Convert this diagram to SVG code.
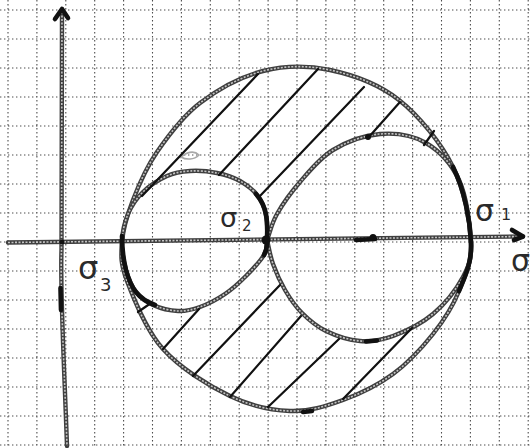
<svg xmlns="http://www.w3.org/2000/svg" width="532" height="448" viewBox="0 0 532 448">
<style>
.grid{fill:none;stroke:#4d4d4d;stroke-width:1.1;stroke-dasharray:1.4 2.6}
.pen{fill:none;stroke:#3f3f3f;stroke-width:4.4;stroke-linecap:round;stroke-linejoin:round}
.pen-in{fill:none;stroke:#c4c4c4;stroke-width:1.6;stroke-dasharray:2 1.5}
.ink{fill:none;stroke:#111;stroke-width:2.2;stroke-linecap:round}
.bold{fill:none;stroke:#111;stroke-width:4.6;stroke-linecap:round;stroke-linejoin:round}
.blob{fill:#111}
.faint{fill:none;stroke:#a8a8a8;stroke-width:1.6}
.lbl{font-family:"DejaVu Sans",sans-serif;fill:#2a2a2a}
</style>
<defs>
<path id="outer" d="M122,242 C123,228.5 127.2,215 133,200 C138.8,185 145.8,168.2 157,152 C168.2,135.8 182.3,116.5 200,103 C217.7,89.5 241.3,76.5 263,71 C284.7,65.5 307.3,65.2 330,70 C352.7,74.8 378.5,83.8 399,100 C419.5,116.2 441.2,143.3 453,167 C464.8,190.7 470,221.3 471,242 C472,262.7 465.2,275.7 459,291 C452.8,306.3 444,320.2 433,334 C422,347.8 408,363 393,374 C378,385 360.2,393.8 343,400 C325.8,406.2 308.8,411.7 290,411 C271.2,410.3 251.2,406.3 230,396 C208.8,385.7 180.2,368.2 163,349 C145.8,329.8 133.8,298.8 127,281 C120.2,263.2 121,255.5 122,242 Z"/>
<path id="small" d="M122,242 C122.3,232.7 124.5,222.3 128,214 C131.5,205.7 136.5,198.3 143,192 C149.5,185.7 159.2,179.5 167,176 C174.8,172.5 181.7,171.5 190,171 C198.3,170.5 208.7,171.3 217,173 C225.3,174.7 233.2,177.2 240,181 C246.8,184.8 253.7,190.3 258,196 C262.3,201.7 264.5,207.7 266,215 C267.5,222.3 267.3,233.3 267,240 C266.7,246.7 267.5,249 264,255 C260.5,261 252.5,269.5 246,276 C239.5,282.5 232.7,288.8 225,294 C217.3,299.2 207.8,304.2 200,307 C192.2,309.8 185.8,311.3 178,311 C170.2,310.7 160,308.2 153,305 C146,301.8 140.5,297.8 136,292 C131.5,286.2 128.3,278.3 126,270 C123.7,261.7 121.7,251.3 122,242 Z"/>
<path id="right" d="M267,240 C270.3,231.3 271.5,223.7 277,214 C282.5,204.3 290.7,192.7 300,182 C309.3,171.3 319.7,158 333,150 C346.3,142 364.5,135.2 380,134 C395.5,132.8 412.8,135.3 426,143 C439.2,150.7 451.3,163.5 459,180 C466.7,196.5 470.3,225.8 471,242 C471.7,258.2 469.5,265 463,277 C456.5,289 444.7,304.2 433,314 C421.3,323.8 405.2,331.5 393,336 C380.8,340.5 371.2,341.8 360,341 C348.8,340.2 335.7,335.7 326,331 C316.3,326.3 308.8,319.8 302,313 C295.2,306.2 289.8,298.2 285,290 C280.2,281.8 276,272.3 273,264 C270,255.7 269,248 267,240"/>
<path id="xaxis" d="M8,242.5 L523,236.5"/>
<path id="yaxis" d="M62,12 L61.5,250 C60,290 64,360 67,446"/>
</defs>
<rect width="532" height="448" fill="#fff"/>
<path class="grid" d="M8,0V448M36.9,0V448M65.8,0V448M94.7,0V448M123.6,0V448M152.5,0V448M181.4,0V448M210.3,0V448M239.2,0V448M268.1,0V448M297,0V448M325.9,0V448M354.8,0V448M383.7,0V448M412.6,0V448M441.5,0V448M470.4,0V448M499.3,0V448M528.2,0V448M0,10H532M0,39H532M0,68H532M0,97H532M0,126H532M0,155H532M0,184H532M0,213H532M0,242H532M0,271H532M0,300H532M0,329H532M0,358H532M0,387H532M0,416H532M0,445H532"/>
<g id="axes">
<use href="#xaxis" class="pen"/><use href="#xaxis" class="pen-in"/>
<use href="#yaxis" class="pen"/><use href="#yaxis" class="pen-in"/>
<path class="bold" d="M512,230 L523,236.5 L514,240"/>
<path class="bold" d="M55,19 L62,9 L68,18"/>
<path class="bold" d="M60.5,288 L61,310"/>
<circle class="blob" cx="62" cy="242" r="2.5"/>
</g>
<g id="curves">
<use href="#outer" class="pen"/><use href="#outer" class="pen-in"/>
<use href="#small" class="pen"/><use href="#small" class="pen-in"/>
<use href="#right" class="pen"/><use href="#right" class="pen-in"/>
<path class="bold" d="M256,194 C262,201 265,208 266,215 C267.5,222 267.3,233 267,240 C266.7,247 267.5,249 264,255"/>
<path class="bold" d="M122,236 C122,250 124,262 126,270 C128.3,278.3 131.5,286.2 136,292 C140.5,297.8 146,301.8 155,305"/>
<path class="bold" d="M453,167 C464.8,190.7 470,221.3 471,242 C472,262.7 465.2,275.7 459,291"/>
<path class="bold" d="M356,240 L375,239"/>
<circle class="blob" cx="373" cy="237.5" r="3.5"/>
<circle class="blob" cx="266" cy="240" r="4.5"/>
<circle class="blob" cx="368" cy="137" r="3"/>
<path class="bold" d="M366,341.5 L377,340.5"/>
<path class="bold" d="M303,412 L312,411"/>
<path class="faint" d="M180,158 C186,152 194,150 199,155 C194,160 186,160 181,157"/>
</g>
<g id="hatching">
<path class="ink" d="M142,196 L258,74 M219,175 L318,69 M259,197 L364,87 M368,138 L400,102 M424,145 L434,131"/>
<path class="ink" d="M138,312 L151,303 M163,349 L199,309 M193,376 L280,285 M230,397 L301,316 M268,407 L339,339 M343,399 L412,328"/>
</g>
<g id="labels">
<text class="lbl" x="475" y="221" font-size="30">σ</text>
<text class="lbl" x="501" y="220" font-size="16">1</text>
<text class="lbl" x="220" y="227" font-size="27">σ</text>
<text class="lbl" x="242" y="231" font-size="15">2</text>
<text class="lbl" x="78" y="279" font-size="32">σ</text>
<text class="lbl" x="100" y="291" font-size="18">3</text>
<text class="lbl" x="511" y="271" font-size="30">σ</text>
</g>
</svg>
